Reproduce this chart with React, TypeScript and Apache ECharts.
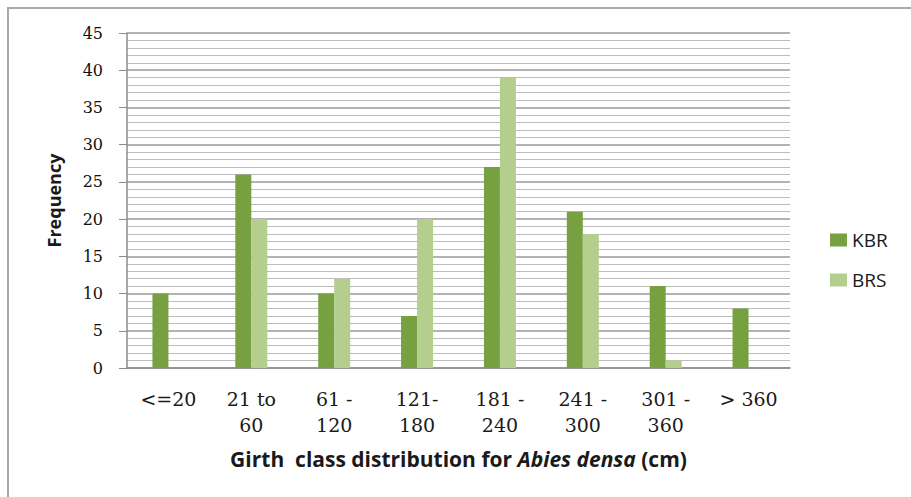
import React, { useEffect, useRef } from "react";
import * as echarts from "echarts";

const categories = ["<=20", "21 to\n60", "61 -\n120", "121-\n180", "181 -\n240", "241 -\n300", "301 -\n360", "> 360"];
const kbr = [10, 26, 10, 7, 27, 21, 11, 8];
const brs = [0, 20, 12, 20, 39, 18, 1, 0];

export default function App() {
  const ref = useRef<HTMLDivElement>(null);
  useEffect(() => {
    if (!ref.current) return;
    const chart = echarts.init(ref.current, null, { renderer: "svg" });
    const sans = "'Open Sans', 'DejaVu Sans', sans-serif";
    const serif = "'DejaVu Serif', 'Liberation Serif', serif";
    chart.setOption({
      animation: false,
      backgroundColor: "#ffffff",
      graphic: [
        {
          type: "rect",
          shape: { x: 8, y: 8, width: 940, height: 540 },
          style: { fill: "none", stroke: "#a8a8a8", lineWidth: 2 },
          silent: true,
        },
      ],
      grid: { left: 127, right: 121, top: 33, bottom: 129 },
      legend: {
        orient: "vertical",
        left: 825,
        top: 225,
        itemWidth: 17,
        itemHeight: 13,
        itemGap: 20,
        icon: "rect",
        textStyle: { fontFamily: sans, fontSize: 19, lineHeight: 20, color: "#1a1a1a" },
        data: ["KBR", "BRS"],
      },
      xAxis: {
        type: "category",
        data: categories,
        axisLine: { show: true, lineStyle: { color: "#8c8c8c", width: 1.5 } },
        axisTick: { show: false },
        axisLabel: {
          interval: 0,
          margin: 18,
          fontFamily: serif,
          fontSize: 19,
          lineHeight: 26,
          color: "#1a1a1a",
        },
        name: "Girth  class distribution for {i|Abies densa} (cm)",
        nameLocation: "middle",
        nameGap: 80,
        nameTextStyle: {
          fontFamily: sans,
          fontSize: 21,
          fontWeight: "bold",
          color: "#1a1a1a",
          rich: {
            i: { fontFamily: sans, fontSize: 21, fontWeight: "bold", fontStyle: "italic", color: "#1a1a1a" },
          },
        },
      },
      yAxis: {
        type: "value",
        min: 0,
        max: 45,
        interval: 5,
        name: "Frequency",
        nameLocation: "middle",
        nameGap: 64,
        nameTextStyle: { fontFamily: sans, fontSize: 18, fontWeight: "bold", color: "#1a1a1a" },
        axisLine: { show: true, lineStyle: { color: "#8c8c8c", width: 1.5 } },
        axisTick: { show: true, length: 8, lineStyle: { color: "#8c8c8c" } },
        axisLabel: { margin: 24, fontFamily: serif, fontSize: 16, color: "#111" },
        splitLine: { show: true, lineStyle: { color: "#9a9a9a", width: 1.5 } },
        minorTick: { show: false, splitNumber: 5 },
        minorSplitLine: { show: true, lineStyle: { color: "#bdbdbd", width: 1 } },
      },
      series: [
        {
          name: "KBR",
          type: "bar",
          data: kbr,
          itemStyle: { color: "#77a041" },
          barWidth: 16,
          barGap: "0%",
        },
        {
          name: "BRS",
          type: "bar",
          data: brs,
          itemStyle: { color: "#b4ce8e" },
          barWidth: 16,
          barGap: "0%",
        },
      ],
    });
    return () => chart.dispose();
  }, []);
  return (
    <div
      ref={ref}
      style={{ position: "absolute", left: 0, top: 0, width: 911, height: 497 }}
    />
  );
}
